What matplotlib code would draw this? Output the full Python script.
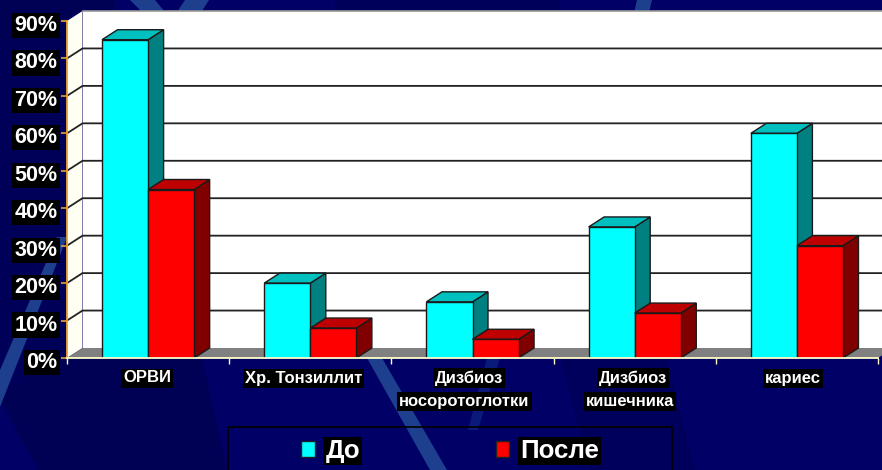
import matplotlib
matplotlib.use('Agg')
import matplotlib.pyplot as plt
from matplotlib.patches import Polygon, Rectangle, Patch
from matplotlib.transforms import ScaledTranslation

categories = ['ОРВИ', 'Хр. Тонзиллит', 'Дизбиоз\nносоротоглотки', 'Дизбиоз\nкишечника', 'кариес']
do_values = [85, 20, 15, 35, 60]
posle_values = [45, 8, 5, 12, 30]
y_ticks = [0, 10, 20, 30, 40, 50, 60, 70, 80, 90]
series_names = ['До', 'После']

W, H = 882, 470
BAR_W = 0.284
DX = 15.5 / 162.2   # глубина в единицах категорий
DY = 10 / 3.745     # глубина в процентах
# сдвиг строк подписей от центра категории, пиксели
LABEL_SHIFT = [[-1], [-6.5], [-3.5, -8], [-2, -5], [-4]]

plt.rcParams['font.family'] = ['Liberation Sans', 'DejaVu Sans']
plt.rcParams['font.weight'] = 'bold'

fig = plt.figure(figsize=(W / 100, H / 100), dpi=100, facecolor='#000066')


def draw_background():
    """Фон слайда: тёмные зоны и светлые диагональные полосы (координаты в пикселях)."""
    bg = fig.add_axes([0, 0, 1, 1], zorder=0)
    bg.set_xlim(0, W)
    bg.set_ylim(H, 0)
    bg.axis('off')
    dark = '#000055'
    band = '#1d3f8d'
    bg.add_patch(Polygon([(0, 0), (115, 0), (115, 40), (0, 40)], color=dark, lw=0))
    bg.add_patch(Polygon([(0, 40), (67, 40), (67, 358), (0, 400)], color='#000058', lw=0))
    bg.add_patch(Polygon([(0, 400), (67, 350), (200, 350), (227, 470), (38, 470)], color=dark, lw=0))
    bg.add_patch(Polygon([(335, 0), (560, 0), (560, 12), (335, 12)], color='#00005a', lw=0))
    bg.add_patch(Polygon([(560, 358), (667, 358), (695, 470), (590, 470)], color='#00005c', lw=0))
    bg.add_patch(Polygon([(0, 370), (57, 237), (68, 237), (68, 235), (0, 407)], color=band, lw=0))
    bg.add_patch(Polygon([(367, 358), (382, 358), (447, 470), (430, 470)], color=band, lw=0))
    bg.add_patch(Polygon([(487, 358), (500, 358), (478, 430), (468, 430)], color='#0a1a78', lw=0))
    bg.add_patch(Polygon([(130, 0), (155, 0), (180, 30), (160, 30)], color=band, lw=0))
    bg.add_patch(Polygon([(185, 0), (209, 0), (190, 30), (165, 30)], color=band, lw=0))
    bg.add_patch(Polygon([(637, 0), (652, 0), (645, 30), (630, 30)], color=band, lw=0))
    bg.add_patch(Rectangle((228, 427), 444, 60, fill=False, ec='black', lw=1.2))
    return bg


def draw_walls(ax):
    top = y_ticks[-1]
    n = len(categories)
    ax.add_patch(Polygon([(DX, DY), (n + DX, DY), (n + DX, top + DY), (DX, top + DY)],
                         fc='white', ec='none', clip_on=False, zorder=1))
    ax.add_patch(Polygon([(0, 0), (DX, DY), (DX, top + DY), (0, top)],
                         fc='#fffff4', ec='none', clip_on=False, zorder=1))
    ax.add_patch(Polygon([(0, 0), (DX, DY), (n + DX, DY), (n, 0)],
                         fc='#808080', ec='none', clip_on=False, zorder=1))
    for v in y_ticks[1:-1]:
        ax.plot([0, DX, n + DX], [v, v + DY, v + DY], color='#222222', lw=1.3,
                clip_on=False, zorder=2, solid_joinstyle='miter')
    ax.plot([DX, n + DX], [top + DY, top + DY], color='#999999', lw=1.2, clip_on=False, zorder=2)


def draw_bar_3d(ax, x, value, front, side, roof, z):
    edge = '#1a1a1a'
    ax.add_patch(Polygon([(x + BAR_W, 0), (x + BAR_W + DX, DY), (x + BAR_W + DX, value + DY), (x + BAR_W, value)],
                         fc=side, ec=edge, lw=1.0, clip_on=False, zorder=z, joinstyle='miter'))
    ax.add_patch(Polygon([(x, value), (x + DX, value + DY), (x + BAR_W + DX, value + DY), (x + BAR_W, value)],
                         fc=roof, ec=edge, lw=1.0, clip_on=False, zorder=z, joinstyle='miter'))
    ax.bar(x, value, BAR_W, align='edge', color=front, edgecolor=edge, lw=1.0, zorder=z + 0.1)


bg = draw_background()

ax = fig.add_axes([67 / W, 1 - 358 / H, 811 / W, 337 / H], zorder=1)
ax.patch.set_visible(False)
ax.set_xlim(0, len(categories))
ax.set_ylim(0, y_ticks[-1])

draw_walls(ax)

for i in range(len(categories)):
    z = 3 + i
    draw_bar_3d(ax, i + 0.5 - BAR_W, do_values[i], '#00ffff', '#008080', '#00bfbf', z)
    draw_bar_3d(ax, i + 0.5, posle_values[i], '#ff0000', '#800000', '#bf0000', z + 0.5)

for side in ['top', 'right']:
    ax.spines[side].set_visible(False)
ax.spines['left'].set_color('#f0a030')
ax.spines['left'].set_linewidth(1.3)
ax.spines['bottom'].set_color('#ffffc8')
ax.spines['bottom'].set_linewidth(1.3)
ax.spines['left'].set_zorder(20)
ax.spines['bottom'].set_zorder(20)

ax.set_yticks(y_ticks)
ax.set_yticklabels([f'{v}%' for v in y_ticks], fontsize=15.5, color='white', fontweight='bold')
ax.tick_params(axis='y', color='#f0a030', length=4.5, width=1.2, pad=2.4)
label_shift = ScaledTranslation(0, -2 / 100, fig.dpi_scale_trans)
for label in ax.get_yticklabels():
    label.set_bbox(dict(facecolor='black', edgecolor='none', pad=1.5))
    label.set_transform(label.get_transform() + label_shift)

ax.set_xticks(range(len(categories) + 1))
ax.set_xticklabels([])
ax.tick_params(axis='x', color='#ffffc8', length=4, width=1.0)

# подписи категорий: у каждой строки своя чёрная плашка
for i, name in enumerate(categories):
    for j, line in enumerate(name.split('\n')):
        ax.annotate(line, xy=(i + 0.5, 0), xycoords=('data', 'data'),
                    xytext=(LABEL_SHIFT[i][j] * 0.72, -14.4 - j * 16.9), textcoords='offset points',
                    ha='center', va='center', fontsize=12, color='white', fontweight='bold',
                    annotation_clip=False,
                    bbox=dict(facecolor='black', edgecolor='none', pad=1.5))

handles = [Patch(facecolor='#00ffff', edgecolor='#222222', label=series_names[0]),
           Patch(facecolor='#ff0000', edgecolor='#222222', label=series_names[1])]
leg = fig.legend(handles=handles, loc='center left', bbox_to_anchor=(301 / W, 1 - 451 / H),
                 ncol=2, frameon=False, fontsize=18.6, handlelength=0.54, handleheight=0.54,
                 handletextpad=0.4, columnspacing=5.25, borderpad=0, borderaxespad=0)
for t in leg.get_texts():
    t.set_color('white')
    t.set_fontweight('bold')
    t.set_bbox(dict(facecolor='black', edgecolor='none', pad=1.5))

fig.savefig('out.png', dpi=100, facecolor=fig.get_facecolor())
